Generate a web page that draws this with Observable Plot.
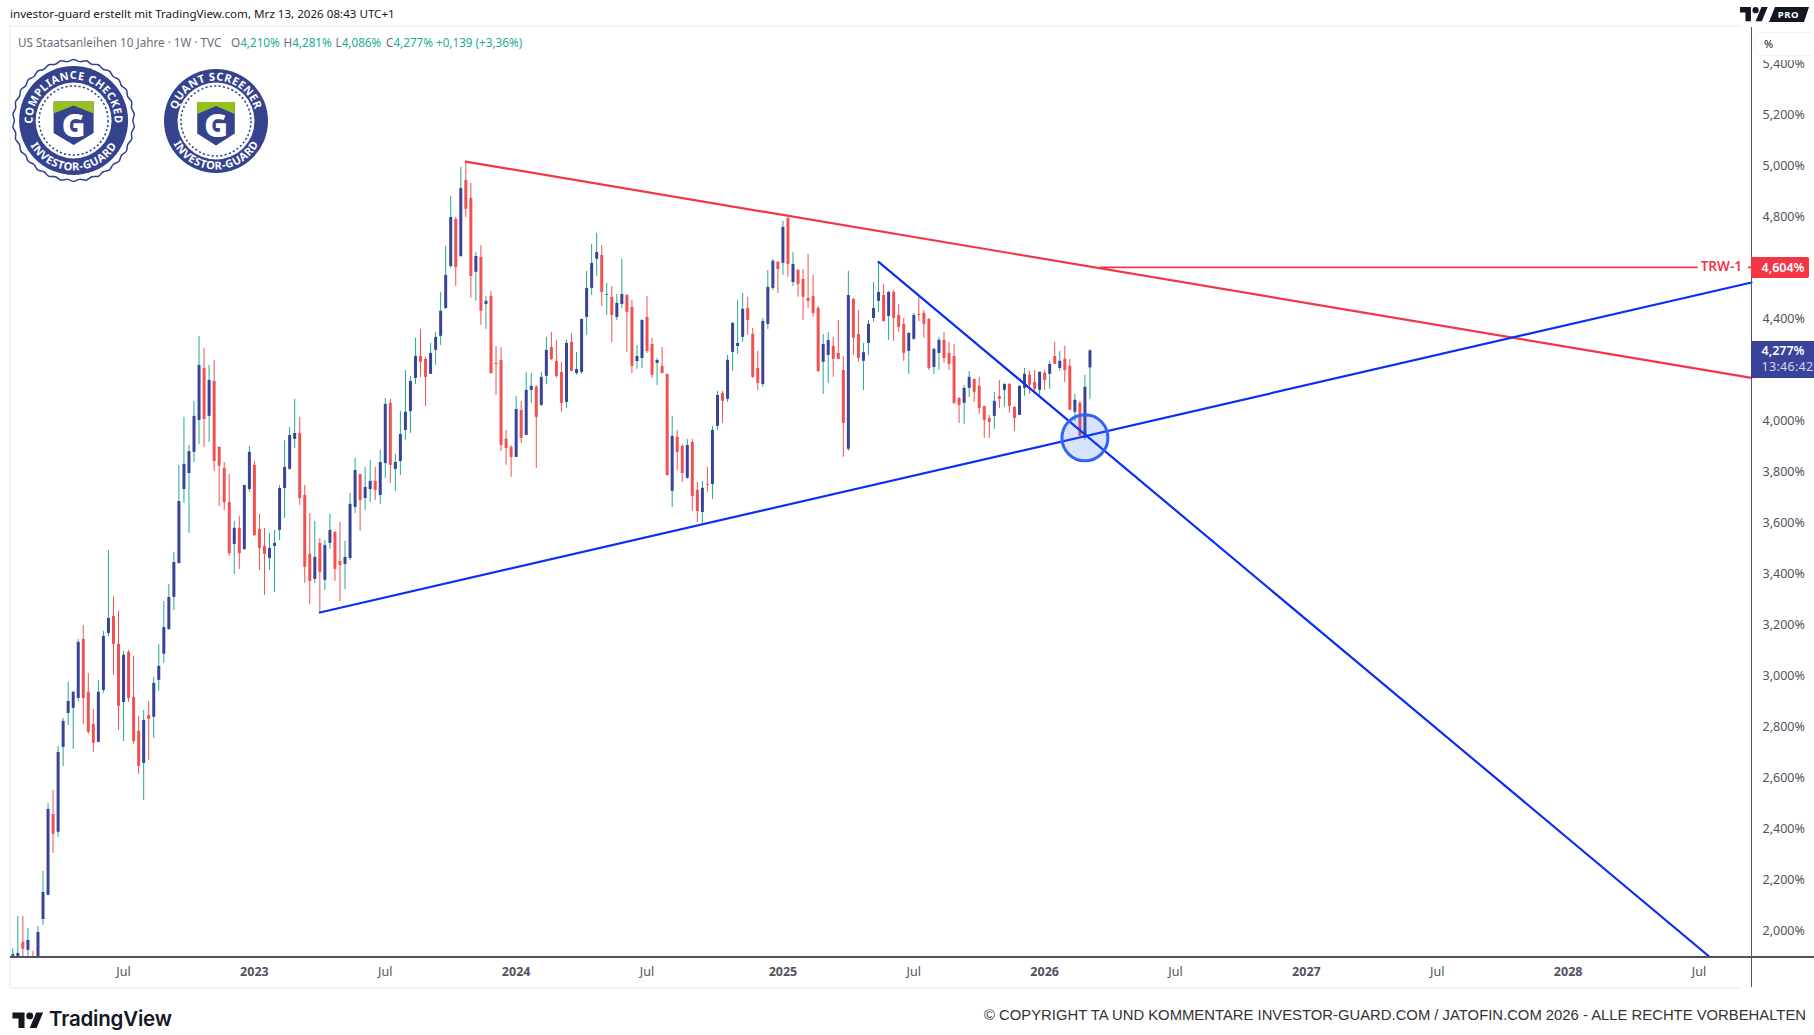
<!DOCTYPE html>
<html>
<head>
<meta charset="utf-8">
<script src="https://cdn.jsdelivr.net/npm/d3@7"></script>
<script src="https://cdn.jsdelivr.net/npm/@observablehq/plot@0.6"></script>
<style>
  html, body { margin: 0; padding: 0; background: #fff; }
  #page { position: relative; width: 1814px; height: 1035px; overflow: hidden; font-family: "Noto Sans", sans-serif; }
  #page > * { position: absolute; }
  #chart { left: 0; top: 27px; }
  #chart svg { display: block; background: transparent; }
  .abs { white-space: nowrap; }
  .teal { color: #22ab94; }
  .leg { top: 34px; font-size: 11.7px; color: #6a6d78; white-space: nowrap; }
</style>
</head>
<body>
<div id="page">
  <div id="frame" style="left:9px;top:25px;width:1730px;height:960px;border-left:2px solid #f2f3f5;border-top:2px solid #f2f3f5;border-bottom:2px solid #f2f3f5"></div>
  <div id="chart"></div>
  <div class="abs" style="left:10px;top:6px;font-size:11.6px;color:#131722">investor-guard erstellt mit TradingView.com, Mrz 13, 2026 08:43 UTC+1</div>
  <div class="leg" style="left:18px">US Staatsanleihen 10 Jahre · 1W · TVC</div>
  <div class="leg" style="left:231px">O<span class="teal">4,210%</span></div>
  <div class="leg" style="left:283.5px">H<span class="teal">4,281%</span></div>
  <div class="leg" style="left:335.5px">L<span class="teal">4,086%</span></div>
  <div class="leg" style="left:386px">C<span class="teal">4,277%</span></div>
  <div class="leg teal" style="left:436px;color:#22ab94">+0,139 (+3,36%)</div>
  <svg id="badges" width="300" height="190" style="left:0;top:0"></svg>
  <div id="axisV" style="left:1751px;top:27px;width:1px;height:960px;background:#50535e"></div>
  <div id="axisH" style="left:10px;top:956px;width:1804px;height:1.5px;background:#50535e"></div>
  <div style="left:1752px;top:27px;width:62px;height:33px;background:#fff"></div>
  <div class="abs" style="left:1755px;top:32px;width:60px;height:24px;box-sizing:border-box;border:1px solid #f0f3fa;border-radius:4px;font-size:11px;line-height:22px;padding-left:8px;color:#131722">%</div>
  <div id="tvTop" style="left:1740px;top:6px">
    <svg width="70" height="16" viewBox="0 0 70 16">
      <g transform="translate(0,-3) scale(0.78)" fill="#131722"><path d="M14 22H7V11H0V4h14v18ZM28 22h-8l7.5-18h8L28 22Z"/><circle cx="20" cy="8" r="4"/></g>
      <path d="M35 0H69L64 15H29Z" fill="#131722"/>
      <text x="48.5" y="11.3" text-anchor="middle" font-size="9.5" font-weight="700" fill="#fff" font-family="Noto Sans" letter-spacing=".6">PRO</text>
    </svg>
  </div>
  <div id="tvBottom" style="left:12px;top:1009px;display:flex;align-items:center">
    <svg width="32" height="19" viewBox="0 0 36 22"><g fill="#131722"><path d="M14 22H7V11H0V4h14v18ZM28 22h-8l7.5-18h8L28 22Z"/><circle cx="20" cy="8" r="4"/></g></svg>
    <span style="font-family:Inter;font-weight:600;font-size:20.5px;color:#131722;margin-left:5px;line-height:19px;letter-spacing:-.2px">TradingView</span>
  </div>
  <div class="abs" style="right:8px;top:1007px;font-family:'Liberation Sans';font-size:14.83px;color:#333">© COPYRIGHT TA UND KOMMENTARE INVESTOR-GUARD.COM / JATOFIN.COM 2026 - ALLE RECHTE VORBEHALTEN</div>
</div>

<script>
const opens = [1.85,1.87,1.957,1.926,1.89,1.885,2.047,2.142,2.459,2.389,2.722,2.855,2.875,2.914,3.145,2.938,2.812,2.742,2.945,3.169,3.235,3.126,2.898,3.095,2.918,2.785,2.659,2.847,2.840,2.985,3.087,3.184,3.310,3.443,3.733,3.796,3.879,4.004,4.208,4.020,4.157,3.898,3.816,3.682,3.518,3.581,3.498,3.733,3.828,3.577,3.510,3.463,3.510,3.573,3.737,3.812,3.930,3.953,3.710,3.479,3.381,3.522,3.377,3.522,3.565,3.451,3.439,3.463,3.663,3.792,3.698,3.733,3.765,3.710,3.835,4.071,3.812,3.843,
  3.965,4.039,4.169,4.255,4.243,4.185,4.279,4.334,4.443,4.608,4.792,4.647,4.945,4.875,4.585,4.643,4.459,4.490,4.228,4.239,3.930,3.898,3.859,4.043,3.945,4.122,4.134,4.063,4.177,4.290,4.236,4.192,4.075,4.310,4.188,4.192,4.408,4.522,4.636,4.651,4.495,4.487,4.408,4.459,4.494,4.447,4.235,4.247,4.408,4.302,4.228,4.216,4.185,3.726,
  3.938,3.902,3.777,3.918,3.730,3.643,3.753,3.753,3.981,4.110,4.087,4.271,4.294,4.330,4.443,4.342,4.208,4.145,4.381,4.522,4.624,4.620,4.796,4.545,4.592,4.557,4.483,4.490,4.443,4.232,4.259,4.294,4.267,4.200,3.891,4.479,4.341,4.236,4.306,4.404,4.471,4.494,4.412,4.506,4.416,4.381,4.275,4.322,4.420,4.424,4.400,4.212,4.267,4.318,4.267,4.255,4.090,4.071,4.130,4.165,4.138,4.059,4.012,4.020,4.098,4.122,4.145,4.055,4.024,
  4.130,4.181,4.153,4.122,4.189,4.185,4.255,4.208,4.244,4.216,4.036,4.071,3.934,4.210]
const highs = [1.932,2.059,2.059,2.012,1.922,2.020,2.236,2.502,2.553,2.726,2.836,2.977,2.942,3.145,3.200,3.012,2.871,2.985,3.177,3.494,3.314,3.255,3.098,3.102,3.079,2.844,2.867,2.902,2.996,3.126,3.294,3.361,3.486,3.828,4.016,3.906,4.079,4.333,4.286,4.220,4.239,3.902,3.839,3.792,3.608,3.628,3.75,3.902,3.843,3.635,3.581,3.561,3.573,3.749,3.926,3.977,4.086,4.016,3.749,3.639,3.608,3.541,3.533,3.635,3.569,3.604,3.530,3.718,3.855,3.792,3.820,3.847,3.820,3.886,4.090,4.086,3.871,4.039,
  4.200,4.177,4.326,4.361,4.251,4.306,4.349,4.506,4.687,4.883,4.80,4.996,5.020,4.934,4.663,4.690,4.490,4.510,4.294,4.290,3.965,3.906,4.098,4.079,4.192,4.188,4.141,4.192,4.330,4.349,4.318,4.232,4.318,4.345,4.271,4.402,4.588,4.694,4.738,4.690,4.541,4.530,4.498,4.636,4.498,4.475,4.298,4.400,4.490,4.326,4.247,4.290,4.185,4.020,
  3.965,3.91,3.930,3.93,3.761,3.765,3.820,3.981,4.118,4.118,4.259,4.388,4.475,4.502,4.487,4.365,4.275,4.404,4.592,4.635,4.628,4.785,4.805,4.663,4.596,4.596,4.655,4.573,4.451,4.341,4.349,4.330,4.396,4.255,4.589,4.483,4.435,4.306,4.396,4.545,4.624,4.538,4.510,4.514,4.459,4.404,4.349,4.424,4.490,4.435,4.404,4.287,4.330,4.349,4.310,4.302,4.094,4.141,4.196,4.165,4.173,4.059,4.024,4.114,4.161,4.149,4.149,4.059,4.140,
  4.208,4.197,4.200,4.193,4.200,4.236,4.310,4.275,4.295,4.244,4.106,4.079,4.181,4.281]
const lows = [1.80,1.80,1.88,1.88,1.85,1.87,2.024,2.14,2.306,2.369,2.647,2.808,2.714,2.902,2.812,2.773,2.702,2.74,2.934,3.155,3.004,2.789,2.745,2.898,2.734,2.616,2.514,2.671,2.757,2.942,3.051,3.18,3.259,3.44,3.679,3.561,3.839,3.910,3.898,3.918,3.804,3.667,3.651,3.471,3.400,3.420,3.494,3.722,3.549,3.416,3.318,3.416,3.330,3.533,3.620,3.81,3.894,3.671,3.365,3.282,3.365,3.251,3.337,3.498,3.373,3.294,3.341,3.455,3.639,3.569,3.651,3.682,3.690,3.675,3.777,3.757,3.726,3.788,
  3.926,3.953,4.145,4.173,4.059,4.185,4.220,4.298,4.44,4.600,4.530,4.643,4.800,4.483,4.471,4.377,4.361,4.185,4.102,3.883,3.828,3.781,3.859,3.914,3.945,4.071,3.816,4.059,4.145,4.239,4.17,4.036,4.051,4.196,4.181,4.185,4.338,4.494,4.569,4.451,4.416,4.310,4.396,4.443,4.271,4.188,4.204,4.208,4.267,4.169,4.141,4.188,3.785,3.663,
  3.808,3.761,3.773,3.647,3.604,3.600,3.722,3.694,3.965,3.993,4.075,4.196,4.263,4.310,4.338,4.169,4.122,4.134,4.361,4.514,4.502,4.573,4.565,4.530,4.487,4.396,4.443,4.41,4.192,4.106,4.149,4.173,4.243,3.859,3.883,4.259,4.232,4.122,4.259,4.389,4.428,4.389,4.318,4.314,4.349,4.236,4.185,4.318,4.392,4.326,4.200,4.185,4.200,4.228,4.200,4.065,3.992,3.989,4.094,4.075,4.028,3.934,3.934,3.969,4.051,4.055,4.032,3.961,4.024,
  4.099,4.106,4.106,4.102,4.122,4.126,4.224,4.197,4.153,4.044,4.0,3.942,3.926,4.086]
const closes = [1.909,1.914,1.930,1.965,1.87,1.996,2.153,2.479,2.381,2.702,2.824,2.902,2.938,3.134,2.914,2.781,2.738,2.938,3.157,3.228,3.126,2.883,3.083,2.914,2.745,2.647,2.828,2.832,2.973,3.040,3.192,3.310,3.447,3.686,3.832,3.882,4.020,4.220,4.008,4.161,3.843,3.824,3.682,3.482,3.581,3.482,3.749,3.879,3.553,3.502,3.479,3.502,3.522,3.737,3.820,3.945,3.953,3.698,3.428,3.373,3.467,3.408,3.514,3.573,3.420,3.435,3.467,3.675,3.808,3.690,3.741,3.765,3.730,3.839,4.067,3.828,3.839,3.949,
  4.036,4.157,4.255,4.232,4.173,4.267,4.330,4.432,4.573,4.800,4.604,4.914,4.832,4.569,4.647,4.432,4.471,4.188,4.224,3.906,3.894,3.859,4.047,3.934,4.122,4.138,4.016,4.173,4.279,4.243,4.177,4.071,4.306,4.196,4.204,4.400,4.522,4.620,4.663,4.506,4.498,4.416,4.463,4.498,4.428,4.216,4.255,4.396,4.275,4.181,4.239,4.188,3.788,3.942,
  3.879,3.796,3.906,3.706,3.647,3.738,3.750,3.965,4.102,4.079,4.240,4.385,4.306,4.440,4.396,4.173,4.149,4.392,4.526,4.628,4.596,4.761,4.616,4.616,4.538,4.487,4.471,4.424,4.196,4.302,4.318,4.243,4.243,3.992,4.494,4.326,4.247,4.270,4.381,4.443,4.506,4.392,4.506,4.404,4.369,4.267,4.345,4.416,4.416,4.381,4.208,4.283,4.318,4.247,4.224,4.071,4.063,4.130,4.173,4.114,4.051,4.004,3.996,4.079,4.087,4.145,4.059,4.012,4.138,
  4.185,4.142,4.126,4.193,4.161,4.224,4.224,4.236,4.200,4.044,4.083,3.942,4.134,4.277]

// Wochenkerzen, jeweils Montag
const weeks = d3.utcMonday.range(new Date("2022-01-31"), new Date("2026-03-10"))

const yearTicks = ["2023-01-02", "2024-01-01", "2025-01-06", "2026-01-05", "2027-01-04", "2028-01-03"].map(d => new Date(d))
const yearLabels = ["2023", "2024", "2025", "2026", "2027", "2028"]
const julTicks = ["2022-07-04", "2023-07-03", "2024-07-01", "2025-07-07", "2026-07-06", "2027-07-05", "2028-07-03"].map(d => new Date(d))
// 4,200% und 4,600% liegen hinter den Preisschildern
const priceTicks = [2.0, 2.2, 2.4, 2.6, 2.8, 3.0, 3.2, 3.4, 3.6, 3.8, 4.0, 4.4, 4.8, 5.0, 5.2, 5.4]

const xDomain = [new Date("2022-01-27T19:00Z"), new Date("2028-09-14T00:00Z")]
const yDomain = [1.898, 5.545]

const redTrend = [{ t: new Date("2023-10-23"), v: 5.019 }, { t: xDomain[1], v: 4.171 }]
const blueRising = [{ t: new Date("2023-04-03"), v: 3.251 }, { t: xDomain[1], v: 4.545 }]
const blueFalling = [{ t: new Date("2025-05-19"), v: 4.626 }, { t: new Date("2028-07-18"), v: 1.90 }]
const trwLeft = [{ t: new Date("2026-03-24"), v: 4.604 }, { t: new Date("2028-06-30"), v: 4.604 }]
const trwRight = [{ t: new Date("2028-09-10"), v: 4.604 }, { t: xDomain[1], v: 4.604 }]
const touchPoint = [{ t: new Date("2026-03-02"), v: 3.936 }]

const candles = weeks.map((t, i) => ({ t, o: opens[i], h: highs[i], l: lows[i], c: closes[i] }))

const UP = "#39439a", DOWN = "#f05252", WICK_UP = "#22ab94", RED = "#f23645", BLUE = "#0a2ff5"
const percent = d => d.toFixed(3).replace(".", ",") + "%"

const chart = Plot.plot({
  width: 1814,
  height: 960,
  marginTop: 0,
  marginBottom: 30,
  marginLeft: 10,
  marginRight: 63,
  style: { fontFamily: "Noto Sans", fontSize: "12.5px", color: "#50535e", overflow: "visible" },
  x: { type: "utc", domain: xDomain },
  y: { domain: yDomain },
  marks: [
    Plot.ruleX(candles, { x: "t", y1: "l", y2: "h", stroke: d => (d.c >= d.o ? WICK_UP : DOWN), strokeWidth: 1, clip: true }),
    Plot.ruleX(candles, { x: "t", y1: "o", y2: "c", stroke: d => (d.c >= d.o ? UP : DOWN), strokeWidth: 3, clip: true }),
    Plot.line(redTrend, { x: "t", y: "v", stroke: RED, strokeWidth: 2.2 }),
    Plot.line(trwLeft, { x: "t", y: "v", stroke: RED, strokeWidth: 1.8 }),
    Plot.line(trwRight, { x: "t", y: "v", stroke: RED, strokeWidth: 1.8 }),
    Plot.line(blueRising, { x: "t", y: "v", stroke: BLUE, strokeWidth: 2.2 }),
    Plot.line(blueFalling, { x: "t", y: "v", stroke: BLUE, strokeWidth: 2.2, clip: true }),
    Plot.dot(touchPoint, { x: "t", y: "v", r: 23, stroke: "#2f63f5", strokeWidth: 3, fill: "#2962ff", fillOpacity: 0.18 }),
    Plot.text([{ t: new Date("2028-08-03"), v: 4.604 }], { x: "t", y: "v", text: d => "TRW-1", fill: RED, fontWeight: 600, fontSize: 13.5, dy: -0.5 }),
    Plot.axisY({ anchor: "right", ticks: priceTicks, tickFormat: percent, tickSize: 0, tickPadding: 11, label: null, fontSize: 12.5 }),
    Plot.axisX({ ticks: julTicks, tickFormat: () => "Jul", tickSize: 0, tickPadding: 10, label: null, fontSize: 12.5 }),
    Plot.axisX({ ticks: yearTicks, tickFormat: (d, i) => yearLabels[i], tickSize: 0, tickPadding: 10, label: null, fontWeight: 700, fontSize: 12.5 })
  ]
})
document.querySelector("#chart").append(chart)

// Preisschilder rechts an der Achse
const yAt = v => chart.scale("y").apply(v) + 27
const page = d3.select("#page")
page.append("div").attr("class", "abs")
  .style("left", "1751px").style("top", yAt(4.604) - 9.5 + "px").style("width", "58px").style("height", "21px")
  .style("background", RED).style("border-radius", "0 2px 2px 0").style("color", "#fff").style("font-weight", "600")
  .style("font-size", "12.5px").style("line-height", "21px").style("padding-left", "10.5px").style("box-sizing", "border-box")
  .text("4,604%")
page.append("div").attr("class", "abs")
  .style("left", "1751px").style("top", yAt(4.277) - 9.4 + "px").style("width", "63px").style("height", "37px").style("overflow", "hidden")
  .style("background", "#39439a").style("font-size", "12.5px").style("line-height", "16px").style("padding", "2px 0 0 10.5px").style("box-sizing", "border-box")
  .html('<div style="color:#fff;font-weight:600">4,277%</div><div style="color:#d3d6e8;letter-spacing:.3px">13:46:42</div>')

// Siegel oben links
const NAVY = "#35438f", GREEN = "#96c11f"
const badges = d3.select("#badges")
function polar(cx, cy, r, deg) {
  const a = (deg - 90) * Math.PI / 180
  return [cx + r * Math.cos(a), cy + r * Math.sin(a)]
}
function badge(id, cx, cy, rDisc, rWhite, top, rTop, rBottom, halfW, scalloped) {
  const g = badges.append("g")
  if (scalloped) {
    const ring = d3.lineRadial().curve(d3.curveCardinalClosed)(d3.range(60).map(k => [k / 60 * 2 * Math.PI, k % 2 ? 59.2 : 61]))
    g.append("path").attr("d", ring).attr("transform", `translate(${cx},${cy})`).attr("fill", "#fff").attr("stroke", NAVY).attr("stroke-width", 1.5)
  }
  g.append("circle").attr("cx", cx).attr("cy", cy).attr("r", rDisc).attr("fill", NAVY)
  g.append("circle").attr("cx", cx).attr("cy", cy).attr("r", rWhite).attr("fill", "#fff")
  g.append("circle").attr("cx", cx).attr("cy", cy).attr("r", rWhite - 3.5).attr("fill", "none").attr("stroke", NAVY).attr("stroke-width", 1.5).attr("stroke-dasharray", "2.2 2.2")
  const [ax, ay] = polar(cx, cy, rTop, -135), [bx, by] = polar(cx, cy, rTop, 135)
  const [cx0, cy0] = polar(cx, cy, rBottom, -115), [cx1, cy1] = polar(cx, cy, rBottom, 115)
  g.append("path").attr("id", id + "T").attr("fill", "none").attr("d", `M${ax},${ay}A${rTop},${rTop} 0 1 1 ${bx},${by}`)
  g.append("path").attr("id", id + "B").attr("fill", "none").attr("d", `M${cx0},${cy0}A${rBottom},${rBottom} 0 0 0 ${cx1},${cy1}`)
  const label = (ref, s, size) => g.append("text").attr("fill", "#fff").attr("font-family", "Noto Sans").attr("font-weight", 700).attr("font-size", size).attr("letter-spacing", ".5")
    .append("textPath").attr("href", "#" + ref).attr("startOffset", "50%").attr("text-anchor", "middle").text(s)
  label(id + "T", top, 11)
  label(id + "B", "INVESTOR-GUARD", 11)
  // Schild mit G
  g.append("path").attr("fill", NAVY).attr("d", `M${cx - halfW},${cy - 19}H${cx + halfW}V${cy + 12.5}L${cx},${cy + 24.5}L${cx - halfW},${cy + 12.5}Z`)
  g.append("path").attr("fill", GREEN).attr("d", `M${cx - halfW},${cy - 19}H${cx + halfW}V${cy - 7}L${cx},${cy - 15}L${cx - halfW},${cy - 7}Z`)
  g.append("text").attr("x", cx).attr("y", cy + 16).attr("text-anchor", "middle").attr("fill", "#fff").attr("font-family", "Noto Sans").attr("font-weight", 900).attr("font-size", 32).text("G")
}
badge("b1", 73.6, 120.5, 54.5, 38, "COMPLIANCE CHECKED", 41, 50, 20, true)
badge("b2", 216, 121, 52, 38.5, "QUANT SCREENER", 40.5, 48.5, 18.8, false)
</script>
</body>
</html>
